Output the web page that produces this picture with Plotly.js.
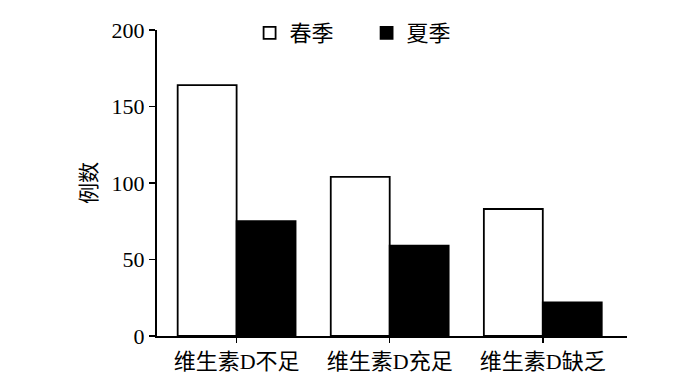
<!DOCTYPE html>
<html>
<head>
<meta charset="utf-8">
<script src="https://cdn.plot.ly/plotly-3.0.1.min.js"></script>
<style>html,body{margin:0;padding:0;background:#fff;}#chart{width:700px;height:383px;}</style>
</head>
<body>
<div id="chart"></div>
<script>
var categories = ["维生素D不足", "维生素D充足", "维生素D缺乏"];
var springValues = [164, 104, 83];
var summerValues = [75, 59, 22];
var seriesNames = ["春季", "夏季"];
var yTickVals = [0, 50, 100, 150, 200];
var yTitle = "例数";

var FONT = "'Liberation Serif', 'Times New Roman', 'Noto Sans CJK SC', serif";

var traces = [
  {
    type: "bar", name: seriesNames[0], x: categories, y: springValues,
    marker: {color: "#ffffff", line: {color: "#000000", width: 1.8}}
  },
  {
    type: "bar", name: seriesNames[1], x: categories, y: summerValues,
    marker: {color: "#000000", line: {color: "#000000", width: 1.8}}
  }
];

var layout = {
  width: 700, height: 383,
  margin: {l: 157, r: 73, t: 30, b: 47},
  paper_bgcolor: "#ffffff", plot_bgcolor: "#ffffff",
  font: {family: FONT, size: 22, color: "#000"},
  barmode: "group", bargap: 0.23, bargroupgap: 0,
  showlegend: true,
  legend: {
    orientation: "h", x: 0.197, xanchor: "left", y: 0.99, yanchor: "middle",
    font: {family: FONT, size: 22, color: "#000"},
    entrywidth: 72, entrywidthmode: "pixels",
    bgcolor: "rgba(0,0,0,0)", traceorder: "normal"
  },
  xaxis: {
    type: "category", range: [-0.52, 2.55],
    showline: true, linecolor: "#000", linewidth: 2,
    ticks: "outside", ticklen: 5, tickwidth: 1.5, tickcolor: "#000",
    showgrid: false, zeroline: false,
    tickfont: {family: FONT, size: 22, color: "#000"}
  },
  yaxis: {
    range: [0, 200], tickvals: yTickVals, ticktext: yTickVals.map(String),
    showline: true, linecolor: "#000", linewidth: 2,
    ticks: "outside", ticklen: 6, tickwidth: 1.5, tickcolor: "#000",
    showgrid: false, zeroline: false,
    tickfont: {family: FONT, size: 22, color: "#000"},
    title: {text: yTitle, font: {family: FONT, size: 21, color: "#000"}, standoff: 9}
  }
};

Plotly.newPlot("chart", traces, layout, {displayModeBar: false, staticPlot: true});
</script>
</body>
</html>
